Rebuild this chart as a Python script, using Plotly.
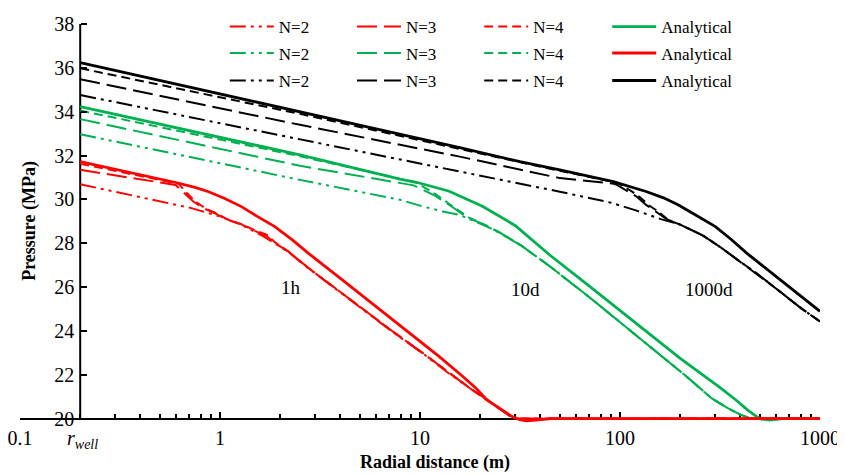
import numpy as np
import plotly.graph_objects as go

# ---- data (r in m, P in MPa) ----
R_WELL = 0.2

# 1h  (red)
RED_AN_R = [0.2, 0.4, 0.6, 0.75, 0.87, 1.05, 1.28, 1.55, 1.88, 2.3, 2.76, 4.0, 6.0, 9.0, 12.4, 16.0, 19.0, 21.6, 25.5, 29.0, 31.5, 34.0, 38.0, 45.0, 1000]
RED_AN_P = [31.72, 31.13, 30.77, 30.55, 30.36, 30.05, 29.67, 29.2, 28.76, 28.15, 27.55, 26.4, 25.12, 23.85, 22.85, 22.0, 21.4, 20.85, 20.4, 20.08, 19.95, 19.9, 19.93, 20.0, 20.0]
RED_N2_R = [0.2, 0.72, 1.0, 1.28, 1.65, 2.2, 2.76, 4.47, 7.0, 10.8, 14.0, 18.0, 22.0, 25.0, 28.0, 31.0, 35.0, 1000]
RED_N2_P = [30.69, 29.6, 29.22, 28.84, 28.31, 27.6, 26.86, 25.42, 24.08, 22.84, 22.05, 21.35, 20.8, 20.45, 20.14, 20.0, 19.98, 20.0]
RED_N3_R = [0.2, 0.6, 0.66, 0.735, 0.825, 0.95, 1.1, 1.28, 1.5, 1.7, 1.85, 2.2, 2.76, 4.47, 7.0, 10.8, 14.0, 18.0, 22.0, 25.0, 28.0, 31.0, 1000]
RED_N3_P = [31.35, 30.66, 30.3, 29.9, 29.6, 29.35, 29.05, 28.86, 28.55, 28.35, 28.05, 27.62, 26.88, 25.44, 24.1, 22.86, 22.08, 21.35, 20.82, 20.45, 20.14, 20.0, 20.0]
RED_N4_R = [0.2, 0.62, 0.68, 0.75, 0.84, 0.95, 1.1, 1.28, 1.5, 1.72, 1.88, 2.2, 2.76, 4.47, 7.0, 10.8, 14.0, 18.0, 22.0, 25.0, 28.0, 31.0, 1000]
RED_N4_P = [31.62, 30.72, 30.3, 29.92, 29.6, 29.38, 29.07, 28.87, 28.58, 28.38, 28.05, 27.62, 26.88, 25.44, 24.1, 22.86, 22.08, 21.35, 20.82, 20.45, 20.14, 20.0, 20.0]

# 10d  (green)
GRN_AN_R = [0.2, 2.51, 7.94, 9.6, 14.0, 20.5, 30.0, 44.7, 70.0, 116.6, 200.0, 313.0, 380.0, 432.0, 480.0, 510.0, 560.0, 650.0, 1000]
GRN_AN_P = [34.23, 32.03, 30.92, 30.78, 30.37, 29.69, 28.8, 27.45, 26.05, 24.45, 22.75, 21.45, 20.85, 20.41, 20.1, 19.98, 19.93, 20.0, 20.0]
GRN_N2_R = [0.2, 2.51, 7.94, 10.4, 13.0, 15.8, 21.6, 25.1, 32.0, 44.7, 70.0, 96.3, 150.0, 210.0, 288.0, 350.0, 400.0, 440.0, 470.0, 520.0, 1000]
GRN_N2_P = [32.97, 30.89, 29.98, 29.67, 29.45, 29.29, 28.76, 28.46, 27.9, 26.94, 25.55, 24.51, 23.1, 22.0, 20.92, 20.45, 20.18, 20.04, 20.0, 19.97, 20.0]
GRN_N3_R = [0.2, 2.51, 9.3, 11.65, 14.7, 17.0, 21.6, 25.1, 32.0, 44.7, 70.0, 96.3, 150.0, 210.0, 288.0, 350.0, 400.0, 440.0, 470.0, 1000]
GRN_N3_P = [33.66, 31.53, 30.64, 30.21, 29.62, 29.2, 28.8, 28.48, 27.9, 26.94, 25.55, 24.51, 23.1, 22.0, 20.92, 20.45, 20.18, 20.04, 20.0, 20.0]
GRN_N4_R = [0.2, 2.51, 9.5, 11.9, 15.0, 17.5, 21.6, 25.1, 32.0, 44.7, 70.0, 96.3, 150.0, 210.0, 288.0, 350.0, 400.0, 440.0, 470.0, 1000]
GRN_N4_P = [34.05, 31.97, 30.78, 30.25, 29.6, 29.18, 28.78, 28.48, 27.9, 26.94, 25.55, 24.51, 23.1, 22.0, 20.92, 20.45, 20.18, 20.04, 20.0, 20.0]

# 1000d  (black)
BLK_AN_R = [0.2, 2.51, 15.8, 31.6, 50.0, 92.6, 110.0, 135.0, 165.0, 195.0, 240.0, 300.0, 360.0, 430.0, 600.0, 800.0, 1000]
BLK_AN_P = [36.24, 34.0, 32.36, 31.72, 31.35, 30.81, 30.62, 30.36, 30.07, 29.75, 29.28, 28.76, 28.17, 27.55, 26.5, 25.6, 24.89]
BLK_N2_R = [0.2, 2.51, 15.8, 31.6, 50.0, 90.0, 120.0, 160.0, 200.0, 260.0, 320.0, 400.0, 470.0, 600.0, 800.0, 1000]
BLK_N2_P = [34.76, 32.74, 31.27, 30.74, 30.35, 29.85, 29.5, 29.1, 28.85, 28.35, 27.8, 27.15, 26.7, 25.95, 25.05, 24.43]
BLK_N3_R = [0.2, 2.51, 15.8, 50.0, 92.0, 95.6, 110.0, 121.0, 135.0, 150.0, 171.0, 200.0, 260.0, 320.0, 400.0, 470.0, 600.0, 800.0, 1000]
BLK_N3_P = [35.48, 33.4, 31.95, 30.97, 30.72, 30.68, 30.35, 30.13, 29.75, 29.45, 29.1, 28.85, 28.35, 27.8, 27.15, 26.7, 25.95, 25.05, 24.43]
BLK_N4_R = [0.2, 2.51, 15.8, 50.0, 95.0, 100.0, 115.0, 125.0, 140.0, 155.0, 175.0, 200.0, 260.0, 320.0, 400.0, 470.0, 600.0, 800.0, 1000]
BLK_N4_P = [35.98, 33.9, 32.3, 31.3, 30.78, 30.7, 30.35, 30.12, 29.72, 29.45, 29.05, 28.85, 28.35, 27.8, 27.15, 26.7, 25.95, 25.05, 24.43]

X_TICKS = [0.1, 1, 10, 100, 1000]
X_TICKTEXT = ['0.1', '1', '10', '100', '1000']
Y_TICKS = [20, 22, 24, 26, 28, 30, 32, 34, 36, 38]

RED, GREEN, BLACK = '#FF0000', '#00B050', '#000000'
FONT = 'Liberation Serif'

DASH = {
    'N=2': '16px,5px,3px,5px,3px,5px',
    'N=3': '20px,7px',
    'N=4': '9px,5px',
    'Analytical': 'solid',
}
WIDTH = {'N=2': 2, 'N=3': 2, 'N=4': 2, 'Analytical': 2.8}
LEG_COL = {'N=2': 0, 'N=3': 1, 'N=4': 2, 'Analytical': 3}

# (r, p, colour, label, legend row)  -- black first so red is drawn on top
series = [
    (BLK_N2_R, BLK_N2_P, BLACK, 'N=2', 3),
    (BLK_N3_R, BLK_N3_P, BLACK, 'N=3', 3),
    (BLK_N4_R, BLK_N4_P, BLACK, 'N=4', 3),
    (BLK_AN_R, BLK_AN_P, BLACK, 'Analytical', 3),
    (GRN_N2_R, GRN_N2_P, GREEN, 'N=2', 2),
    (GRN_N3_R, GRN_N3_P, GREEN, 'N=3', 2),
    (GRN_N4_R, GRN_N4_P, GREEN, 'N=4', 2),
    (GRN_AN_R, GRN_AN_P, GREEN, 'Analytical', 1),
    (RED_N2_R, RED_N2_P, RED, 'N=2', 1),
    (RED_N3_R, RED_N3_P, RED, 'N=3', 1),
    (RED_N4_R, RED_N4_P, RED, 'N=4', 1),
    (RED_AN_R, RED_AN_P, RED, 'Analytical', 2),
]

# plot area in figure px: x 12..812, y 0..415.4 (page adds an 8px body margin)
Y_MIN, Y_MAX = 19.8, 38.729
PLOT_H = 415.4
x_well = (np.log10(R_WELL) + 1) / 4.0

LEG_X = [0.256, 0.415, 0.574, 0.734]
LEG_ROW_Y = {1: 1 - 19 / PLOT_H, 2: 1 - 45.5 / PLOT_H, 3: 1 - 73 / PLOT_H}

fig = go.Figure()
legends = {}
for i, (r, p, col, lab, row) in enumerate(series):
    key = 'legend' if i == 0 else f'legend{i + 1}'
    legends[key] = dict(
        x=LEG_X[LEG_COL[lab]], xanchor='left', y=LEG_ROW_Y[row], yanchor='middle',
        font=dict(family=FONT, size=17, color='black'), bgcolor='rgba(0,0,0,0)',
        itemwidth=44,
    )
    fig.add_trace(go.Scatter(
        x=r, y=p, mode='lines', name=lab,
        line=dict(color=col, width=WIDTH[lab], dash=DASH[lab]),
        legend=key,
    ))

fig.update_layout(
    width=845, height=475, autosize=False,
    margin=dict(l=12, r=33, t=0, b=59.6),
    paper_bgcolor='white', plot_bgcolor='white',
    font=dict(family=FONT, size=20, color='black'),
    showlegend=True,
    xaxis=dict(
        type='log', range=[-1, 3], anchor='free', position=(20 - Y_MIN) / (Y_MAX - Y_MIN),
        automargin=False, ticklabeloverflow='allow',
        showline=True, linecolor='black', linewidth=2, layer='below traces',
        showgrid=False, zeroline=False,
        tickmode='array', tickvals=X_TICKS, ticktext=X_TICKTEXT,
        ticks='inside', ticklen=6, tickwidth=1.5, tickcolor='black',
        ticklabelstandoff=1,
        tickfont=dict(family=FONT, size=20),
        minor=dict(ticks='inside', ticklen=4, tickwidth=1.5, tickcolor='black',
                   dtick='D1', showgrid=False),
    ),
    yaxis=dict(
        range=[Y_MIN, Y_MAX], anchor='free', position=x_well, automargin=False,
        showline=False, showgrid=False, zeroline=False,
        tickmode='array', tickvals=Y_TICKS,
        ticks='inside', ticklen=6, tickwidth=1.5, tickcolor='black',
        ticklabelstandoff=6,
        tickfont=dict(family=FONT, size=20),
    ),
    shapes=[dict(type='line', xref='paper', yref='y', x0=x_well, x1=x_well, y0=20, y1=38,
                 line=dict(color='black', width=2), layer='below')],
    annotations=[
        dict(text='<b>Pressure (MPa)</b>', textangle=-90, xref='paper', yref='paper',
             x=0.0125, y=0.4872, xanchor='center', yanchor='middle', showarrow=False,
             font=dict(family=FONT, size=18)),
        dict(text='<b>Radial distance (m)</b>', xref='paper', yref='paper',
             x=0.519, y=-0.0953, xanchor='center', yanchor='middle', showarrow=False,
             font=dict(family=FONT, size=18)),
        dict(text='<i>r</i><sub><i>well</i></sub>', xref='paper', yref='paper',
             x=0.0775, y=-0.040, xanchor='center', yanchor='middle', showarrow=False,
             font=dict(family=FONT, size=20)),
        dict(text='1h', xref='x', yref='y', x=0.355, y=25.97, showarrow=False,
             xanchor='center', yanchor='middle', font=dict(family=FONT, size=19)),
        dict(text='10d', xref='x', yref='y', x=1.525, y=25.88, showarrow=False,
             xanchor='center', yanchor='middle', font=dict(family=FONT, size=19)),
        dict(text='1000d', xref='x', yref='y', x=2.445, y=25.88, showarrow=False,
             xanchor='center', yanchor='middle', font=dict(family=FONT, size=19)),
    ],
    **legends,
)

fig.write_html("out.html")
